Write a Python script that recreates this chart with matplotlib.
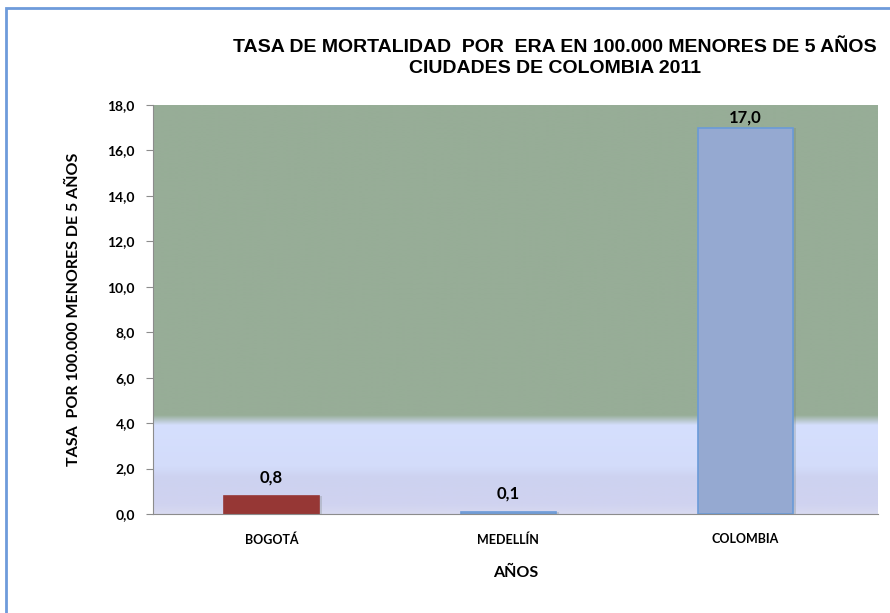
import matplotlib.pyplot as plt
import matplotlib.colors as mcolors
import numpy as np
from matplotlib.patches import Rectangle

categories = ['BOGOTÁ', 'MEDELLÍN', 'COLOMBIA']
rates = [0.8, 0.1, 17.0]
rate_labels = ['0,8', '0,1', '17,0']
bar_colors = ['#963735', '#95A9D1', '#95A9D1']
edge_colors = ['#963735', '#6A9AD8', '#6A9AD8']
yticks = [0, 2, 4, 6, 8, 10, 12, 14, 16, 18]

fig = plt.figure(figsize=(8.9, 6.13), dpi=100)
fig.patch.set_facecolor('white')

# outer chart border (only left and top visible in the crop)
fig.add_artist(Rectangle((6 / 890, -0.05), 1.0, 1 - 8 / 613 + 0.05,
                         transform=fig.transFigure, fill=False,
                         edgecolor='#6E9BDB', linewidth=2))

ax = fig.add_axes([153 / 890, 1 - 514 / 613, (878 - 153) / 890, (514 - 105) / 613])
xmin, xmax = -0.5, 2.56
ax.set_xlim(xmin, xmax)
ax.set_ylim(0, 18)

# plot area gradient background
stops_v = [0, 0.4, 1.6, 2.1, 3.9, 4.35, 18]
stops_c = ['#D9DAF0', '#D0D3F0', '#CDD2F0', '#D3DCFA', '#D5DFFE', '#97AD97', '#97AD97']
vals = np.linspace(0, 18, 900)
rgb = np.array([mcolors.to_rgb(c) for c in stops_c])
grad = np.stack([np.interp(vals, stops_v, rgb[:, i]) for i in range(3)], axis=-1)
ax.imshow(grad[:, None, :], extent=[xmin, xmax, 0, 18], origin='lower',
          aspect='auto', zorder=0, interpolation='bilinear')

x = np.arange(len(categories))
# subtle shadow
ax.bar(x + 0.015, rates, width=0.4, color='#6F7A70', alpha=0.25, zorder=1)
ax.bar(x, rates, width=0.4, color=bar_colors, edgecolor=edge_colors,
       linewidth=1.2, zorder=2)

# labels sit above the bar, but are kept inside the plot area (like Excel)
for xi, v, lab in zip(x, rates, rate_labels):
    ax.text(xi, min(v + 0.45, 17.1), lab, ha='center', va='bottom', fontsize=12,
            fontweight='bold', family='Lato', zorder=3)

ax.set_yticks(yticks)
ax.set_yticklabels([f'{t:.1f}'.replace('.', ',') for t in yticks],
                   fontsize=10, fontweight='bold', family='Lato')
ax.set_xticks(x)
ax.set_xticklabels(categories, fontsize=9, fontweight='bold', family='Lato')
ax.tick_params(axis='x', length=0, pad=14)
ax.tick_params(axis='y', length=5, color='#8C8C8C', pad=8, direction='out')

for side in ['top', 'right']:
    ax.spines[side].set_visible(False)
for side in ['left', 'bottom']:
    ax.spines[side].set_color('#8C8C8C')

ax.set_ylabel('TASA  POR 100.000 MENORES DE 5 AÑOS', fontsize=11.5,
              fontweight='bold', family='Lato', labelpad=19)
ax.set_xlabel('AÑOS', fontsize=11.5, fontweight='bold', family='Lato', labelpad=14)

fig.text(555 / 890, 1 - 58 / 613,
         'TASA DE MORTALIDAD  POR  ERA EN 100.000 MENORES DE 5 AÑOS\nCIUDADES DE COLOMBIA 2011',
         ha='center', va='center', fontsize=14, fontweight='bold',
         family='Liberation Sans', linespacing=1.3)

fig.savefig('out.png', dpi=100)
